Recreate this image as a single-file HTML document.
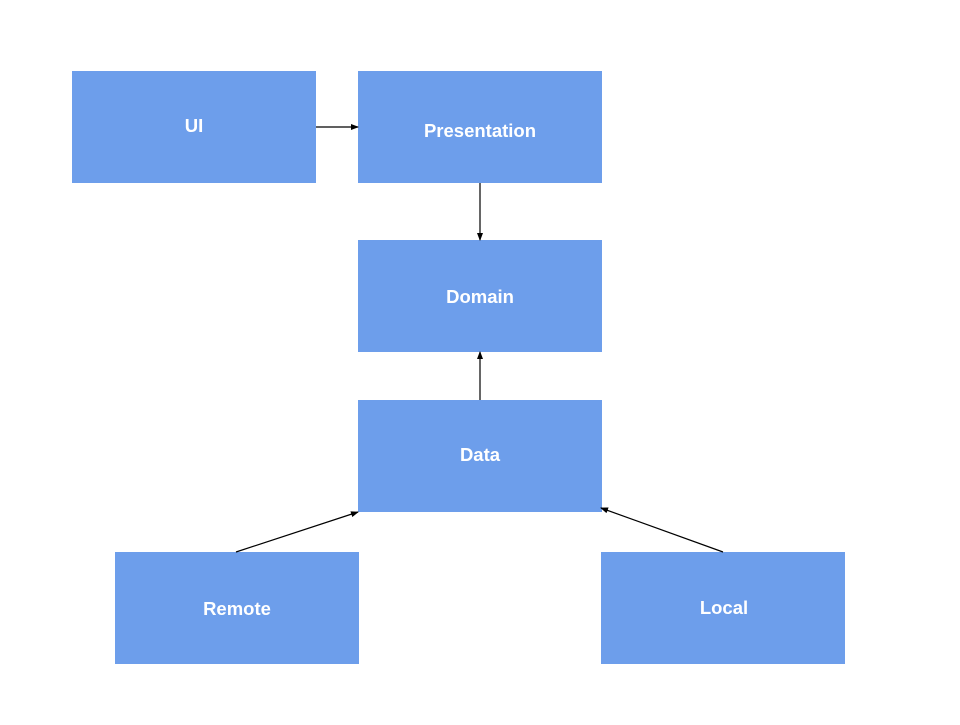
<!DOCTYPE html>
<html><head><style>
body{margin:0;background:#fff;width:960px;height:720px;overflow:hidden}
</style></head><body>
<svg width="960" height="720" xmlns="http://www.w3.org/2000/svg">
<defs><marker id="a" markerWidth="8" markerHeight="6" refX="7" refY="3" orient="auto" markerUnits="userSpaceOnUse"><path d="M0,0 L8,3 L0,6 z" fill="#000"/></marker></defs>
<g fill="#6d9eeb">
<rect x="72" y="71" width="244" height="112"/>
<rect x="358" y="71" width="244" height="112"/>
<rect x="358" y="240" width="244" height="112"/>
<rect x="358" y="400" width="244" height="112"/>
<rect x="115" y="552" width="244" height="112"/>
<rect x="601" y="552" width="244" height="112"/>
</g>
<g stroke="#000" stroke-width="1.2" marker-end="url(#a)">
<line x1="316" y1="127" x2="358" y2="127"/>
<line x1="480" y1="183" x2="480" y2="240"/>
<line x1="480" y1="400" x2="480" y2="352"/>
<line x1="236" y1="552" x2="358" y2="512"/>
<line x1="723" y1="552" x2="601" y2="508"/>
</g>
<g fill="#fff" font-family="Liberation Sans, sans-serif" font-weight="bold" font-size="18.5" text-anchor="middle">
<text x="194" y="132">UI</text>
<text x="480" y="137">Presentation</text>
<text x="480" y="303">Domain</text>
<text x="480" y="461">Data</text>
<text x="237" y="615">Remote</text>
<text x="724" y="614">Local</text>
</g>
</svg>
</body></html>
